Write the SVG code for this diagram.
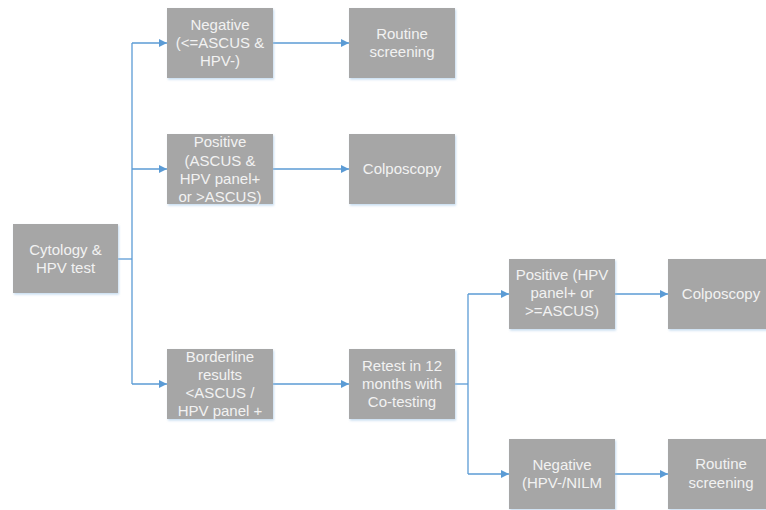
<svg xmlns="http://www.w3.org/2000/svg" width="766" height="510" viewBox="0 0 766 510">
  <style>
    .box { fill: #a6a6a6; filter: url(#sh); }
    .t { font-family: "Liberation Sans", Arial, sans-serif; font-size: 15px; fill: #f2f2f2; text-anchor: middle; }
    .c { fill: none; stroke: #5b9bd5; stroke-width: 1.3; }
  </style>
  <defs>
    <filter id="sh" x="-10%" y="-10%" width="120%" height="130%">
      <feDropShadow dx="1" dy="1.5" stdDeviation="0.8" flood-color="#9dc3e6" flood-opacity="0.6"/>
    </filter>
    <marker id="ah" markerWidth="8" markerHeight="8" refX="8" refY="4" orient="auto" markerUnits="userSpaceOnUse">
      <path d="M0,0 L8,4 L0,8 Z" fill="#5b9bd5"/>
    </marker>
  </defs>
  <rect width="766" height="510" fill="#ffffff"/>

  <g id="connectors">
    <path class="c" d="M118,259 H132"/>
    <path class="c" d="M132,43 V384"/>
    <path class="c" d="M132,43 H167" marker-end="url(#ah)"/>
    <path class="c" d="M132,169 H167" marker-end="url(#ah)"/>
    <path class="c" d="M132,384 H167" marker-end="url(#ah)"/>
    <path class="c" d="M273,43 H349" marker-end="url(#ah)"/>
    <path class="c" d="M273,169 H349" marker-end="url(#ah)"/>
    <path class="c" d="M273,384 H349" marker-end="url(#ah)"/>
    <path class="c" d="M455,384 H468"/>
    <path class="c" d="M468,294 V474"/>
    <path class="c" d="M468,294 H509" marker-end="url(#ah)"/>
    <path class="c" d="M468,474 H509" marker-end="url(#ah)"/>
    <path class="c" d="M615,294 H668" marker-end="url(#ah)"/>
    <path class="c" d="M615,474 H668" marker-end="url(#ah)"/>
  </g>

  <g id="cytology">
    <rect class="box" x="13" y="224" width="105" height="69"/>
    <text class="t" x="65.5" y="255">Cytology &amp;</text>
    <text class="t" x="65.5" y="273">HPV test</text>
  </g>

  <g id="negative1">
    <rect class="box" x="167" y="8" width="106" height="70"/>
    <text class="t" x="220" y="30">Negative</text>
    <text class="t" x="220" y="48">(&lt;=ASCUS &amp;</text>
    <text class="t" x="220" y="66">HPV-)</text>
  </g>

  <g id="routine1">
    <rect class="box" x="349" y="8" width="106" height="70"/>
    <text class="t" x="402" y="39">Routine</text>
    <text class="t" x="402" y="57">screening</text>
  </g>

  <g id="positive1">
    <rect class="box" x="167" y="134" width="106" height="70"/>
    <text class="t" x="220" y="147">Positive</text>
    <text class="t" x="220" y="166">(ASCUS &amp;</text>
    <text class="t" x="220" y="184">HPV panel+</text>
    <text class="t" x="220" y="202">or &gt;ASCUS)</text>
  </g>

  <g id="colposcopy1">
    <rect class="box" x="349" y="134" width="106" height="70"/>
    <text class="t" x="402" y="174">Colposcopy</text>
  </g>

  <g id="borderline">
    <rect class="box" x="167" y="349" width="106" height="70"/>
    <text class="t" x="220" y="362">Borderline</text>
    <text class="t" x="220" y="380">results</text>
    <text class="t" x="220" y="398">&lt;ASCUS /</text>
    <text class="t" x="220" y="416">HPV panel +</text>
  </g>

  <g id="retest">
    <rect class="box" x="349" y="349" width="106" height="70"/>
    <text class="t" x="402" y="371">Retest in 12</text>
    <text class="t" x="402" y="389">months with</text>
    <text class="t" x="402" y="407">Co-testing</text>
  </g>

  <g id="positive2">
    <rect class="box" x="509" y="259" width="106" height="70"/>
    <text class="t" x="562" y="280">Positive (HPV</text>
    <text class="t" x="562" y="298">panel+ or</text>
    <text class="t" x="562" y="316">&gt;=ASCUS)</text>
  </g>

  <g id="colposcopy2">
    <rect class="box" x="668" y="259" width="106" height="70"/>
    <text class="t" x="721" y="299">Colposcopy</text>
  </g>

  <g id="negative2">
    <rect class="box" x="509" y="439" width="106" height="70"/>
    <text class="t" x="562" y="470">Negative</text>
    <text class="t" x="562" y="488">(HPV-/NILM</text>
  </g>

  <g id="routine2">
    <rect class="box" x="668" y="439" width="106" height="70"/>
    <text class="t" x="721" y="469">Routine</text>
    <text class="t" x="721" y="488">screening</text>
  </g>
</svg>
